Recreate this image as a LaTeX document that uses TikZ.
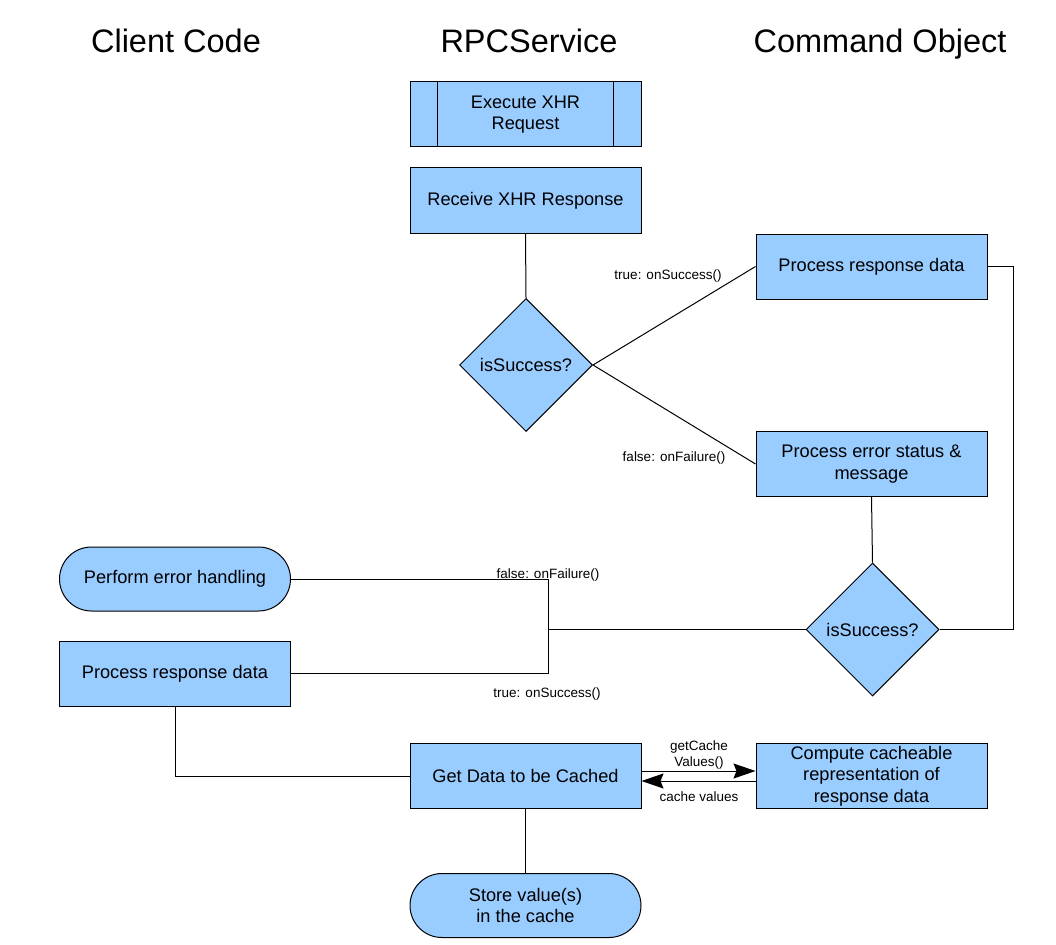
\documentclass[tikz,border=0pt]{standalone}
\usepackage{fontspec}
\setmainfont{Liberation Sans}
\usetikzlibrary{shapes.geometric,arrows.meta}
\definecolor{boxblue}{RGB}{153,204,255}
\tikzset{
  base/.style={draw=black, line width=1pt, fill=boxblue, align=center, inner sep=2pt,
    font=\fontsize{18.2}{21.5}\selectfont},
  procbox/.style={base, rectangle, minimum width=231pt, minimum height=65pt},
  termbox/.style={base, rectangle, rounded corners=32pt, minimum width=231pt, minimum height=64pt},
  decide/.style={base, diamond, aspect=1, inner sep=0pt, minimum size=133pt},
  header/.style={font=\fontsize{32.5}{38}\selectfont, anchor=base},
  lbl/.style={font=\fontsize{13.5}{15.5}\selectfont, align=center, inner sep=1pt},
  conn/.style={draw=black, line width=1pt},
  bigarrow/.style={conn, -{Stealth[length=22pt,width=15pt,inset=3pt]}}
}
\begin{document}
\begin{tikzpicture}[x=1pt,y=-1pt]
\useasboundingbox (0,0) rectangle (1056,944);
% headers
\node[header] (h1) at (176,53) {Client Code};
\node[header] (h2) at (529,53) {RPCService};
\node[header] (h3) at (880,53) {Command Object};
% RPC column
\node[procbox] (ex) at (525.5,114.5) {Execute XHR\\Request};
\draw[line width=1pt] ([xshift=28pt]ex.north west) -- ([xshift=28pt]ex.south west);
\draw[line width=1pt] ([xshift=-28pt]ex.north east) -- ([xshift=-28pt]ex.south east);
\node[procbox] (rx) at (525.5,200.5) {Receive XHR Response};
\node[decide] (d1) at (526,365) {isSuccess?};
% Command column
\node[procbox] (pr) at (871.5,266.5) {Process response data};
\node[procbox] (pe) at (871.5,464) {Process error status \&\\message};
\node[decide] (d2) at (872.5,629.5) {isSuccess?};
% Client column
\node[termbox] (eh) at (175,579) {Perform error handling};
\node[procbox] (pl) at (175,673.5) {Process response data};
% bottom
\node[procbox] (gd) at (525.5,776) {Get Data to be Cached};
\node[procbox] (cc) at (871.5,776) {Compute cacheable\\representation of\\response data};
\node[termbox] (st) at (525.5,905.5) {Store value(s)\\in the cache};
% connectors
\draw[conn] (rx.south) -- (d1.north);
\draw[conn] (d1.east) -- (pr.west);
\draw[conn] (d1.east) -- (pe.west);
\node[lbl] (l1) at (668,276) {true: onSuccess()};
\node[lbl] (l2) at (674,458) {false: onFailure()};
\draw[conn] (pr.east) -- ++(26,0) |- (d2.east);
\draw[conn] (pe.south) -- (d2.north);
\coordinate (jt) at (548,579);
\coordinate (jb) at (548,673.5);
\coordinate (jm) at (548,629.5);
\draw[conn] (d2.west) -- (jm);
\draw[conn] (eh.east) -- (jt) -- (jb) -- (pl.east);
\node[lbl] (l3) at (548,575) {false: onFailure()};
\node[lbl] (l4) at (547,694) {true: onSuccess()};
\draw[conn] (pl.south) |- (gd.west);
\draw[bigarrow] ([yshift=5pt]gd.east) -- ([yshift=5pt]cc.west);
\draw[bigarrow] ([yshift=-5pt]cc.west) -- ([yshift=-5pt]gd.east);
\node[lbl] (l5) at (699,755) {getCache\\Values()};
\node[lbl] (l6) at (699,797) {cache values};
\draw[conn] (gd.south) -- (st.north);
\end{tikzpicture}
\end{document}
